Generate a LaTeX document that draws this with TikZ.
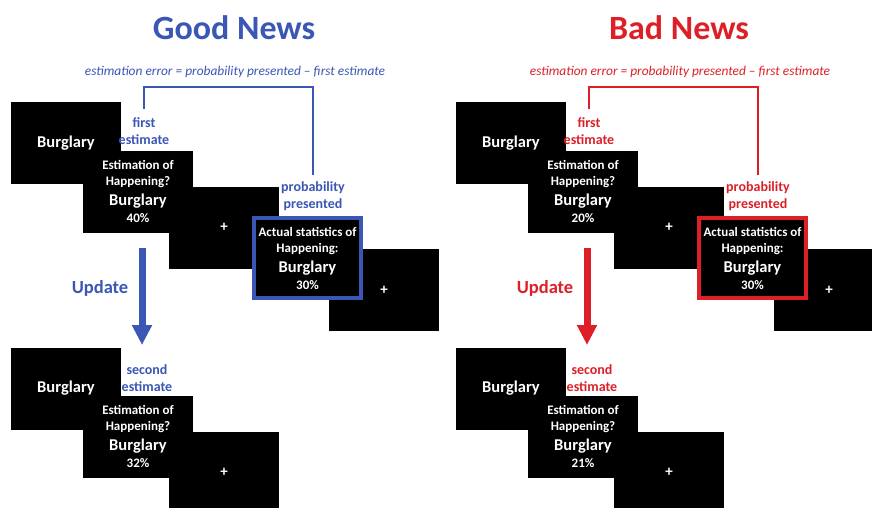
\documentclass[tikz,border=0pt]{standalone}
\usepackage{fontspec}
\setmainfont{Carlito}
\usetikzlibrary{arrows.meta}
\definecolor{goodblue}{RGB}{59,87,181}
\definecolor{badred}{RGB}{221,32,40}
\newcommand\cuefont{\fontsize{16.5}{19}\selectfont}

\begin{document}
\begin{tikzpicture}
[x=1pt,y=-1pt,%
  screen/.style={fill=black,text=white,inner sep=0pt,minimum width=110pt,minimum height=82pt,font=\bfseries\cuefont},%
  estim/.style={align=center,font=\bfseries\fontsize{13}{16}\selectfont},%
  fix/.style={font=\bfseries\fontsize{15}{17}\selectfont},%
  note/.style={inner sep=0pt,align=center,font=\bfseries\fontsize{14}{17}\selectfont},%
  headline/.style={inner sep=0pt,font=\bfseries\fontsize{34}{40}\selectfont},%
  formula/.style={inner sep=0pt,font=\itshape\fontsize{13.4}{16}\selectfont},%
  bracket/.style={line width=2pt},%
  update/.style={line width=7pt,-{Triangle[width=19pt,length=20pt]}}]
\fill[white] (0,0) rectangle (872,508);
\useasboundingbox (0,0) rectangle (872,508);
\foreach \p/\dx/\col/\ttl/\first/\second in {g/0/goodblue/Good News/40/32,b/445/badred/Bad News/20/21}{
\begin{scope}[xshift=\dx]
\node[headline,text=\col] (\p-title) at (234,28) {\ttl};
\node[formula,text=\col] (\p-err) at (235,72) {estimation error = probability presented -- first estimate};
% first trial
\node[screen] (\p-cue1) at (66,143) {Burglary};
\node[screen,estim] (\p-est1) at (138,191.5) {Estimation of\\Happening?\\[4pt]{\cuefont Burglary}\\[1pt]\first\%};
\node[screen,fix] (\p-fix1) at (224,227.5) {+};
\node[screen,fix] (\p-fix2) at (384,290) {+};
\node[screen,estim,draw=\col,line width=4pt,minimum width=107pt,minimum height=80pt] (\p-act) at (307.5,258)
  {Actual statistics of\\Happening:\\[4pt]{\cuefont Burglary}\\[1pt]30\%};
\node[note,text=\col] (\p-fe) at (144,131.5) {first\\estimate};
\node[note,text=\col] (\p-pp) at (313,196) {probability\\presented};
\draw[bracket,\col] ([yshift=9pt]\p-fe.north) |- ([yshift=-9pt]\p-err.south) -| ([yshift=6pt]\p-pp.north);
% update
\coordinate (\p-u0) at (142,248);
\coordinate (\p-u1) at (142,345);
\draw[update,\col] (\p-u0) -- (\p-u1);
\node[note,text=\col,font=\bfseries\fontsize{18.5}{22}\selectfont] (\p-upd) at (100,288) {Update};
% second trial
\node[screen] (\p-cue2) at (66,388.5) {Burglary};
\node[screen,estim] (\p-est2) at (138,436.5) {Estimation of\\Happening?\\[4pt]{\cuefont Burglary}\\[1pt]\second\%};
\node[screen,fix] (\p-fix3) at (224,472.5) {+};
\node[note,text=\col] (\p-se) at (147,378) {second\\estimate};
\end{scope}
}
\end{tikzpicture}
\end{document}
